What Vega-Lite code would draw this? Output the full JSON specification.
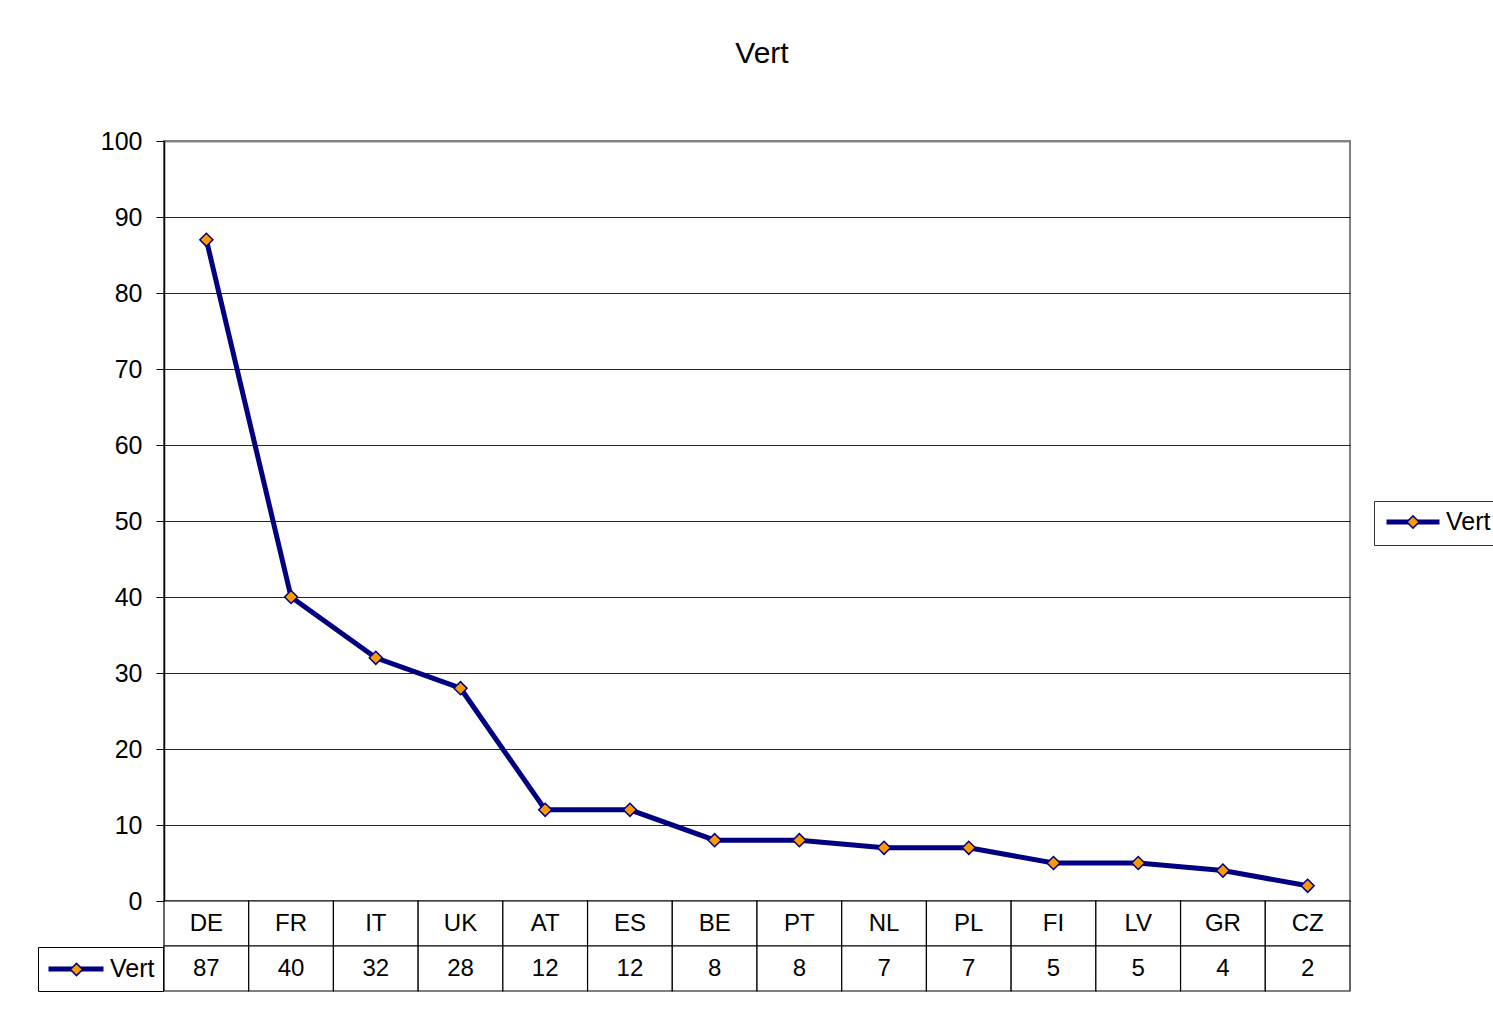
{
  "$schema": "https://vega.github.io/schema/vega-lite/v6.json",
  "autosize": {"type": "pad"},
  "padding": {"left": 37, "top": 38, "right": 0, "bottom": 18},
  "background": "white",
  "config": {
    "font": "Liberation Sans",
    "view": {"stroke": "#808080", "strokeWidth": 2},
    "legend": {"labelFont": "Liberation Sans", "labelColor": "black"},
    "axis": {"labelFont": "Liberation Sans"}
  },
  "datasets": {
    "d": [
      {"country": "DE", "value": 87, "series": "Vert"},
      {"country": "FR", "value": 40, "series": "Vert"},
      {"country": "IT", "value": 32, "series": "Vert"},
      {"country": "UK", "value": 28, "series": "Vert"},
      {"country": "AT", "value": 12, "series": "Vert"},
      {"country": "ES", "value": 12, "series": "Vert"},
      {"country": "BE", "value": 8, "series": "Vert"},
      {"country": "PT", "value": 8, "series": "Vert"},
      {"country": "NL", "value": 7, "series": "Vert"},
      {"country": "PL", "value": 7, "series": "Vert"},
      {"country": "FI", "value": 5, "series": "Vert"},
      {"country": "LV", "value": 5, "series": "Vert"},
      {"country": "GR", "value": 4, "series": "Vert"},
      {"country": "CZ", "value": 2, "series": "Vert"}
    ]
  },
  "spacing": 0,
  "bounds": "flush",
  "resolve": {
    "scale": {"color": "independent", "shape": "independent"},
    "legend": {"color": "independent", "shape": "independent"}
  },
  "vconcat": [
    {
      "width": 1186,
      "height": 760,
      "data": {"name": "d"},
      "title": {"text": "Vert", "fontSize": 30, "fontWeight": "normal", "color": "black", "font": "Liberation Sans", "offset": 60, "dx": 5, "anchor": "middle"},
      "encoding": {
        "x": {"field": "country", "type": "nominal", "sort": null, "scale": {"type": "point", "padding": 0.5}, "axis": null},
        "y": {
          "field": "value", "type": "quantitative",
          "scale": {"domain": [0, 100]},
          "axis": {
            "values": [0, 10, 20, 30, 40, 50, 60, 70, 80, 90, 100],
            "grid": true,
            "gridColor": {"condition": {"test": "datum.value === 100", "value": "#808080"}, "value": "#000000"},
            "gridWidth": {"condition": {"test": "datum.value === 100", "value": 2}, "value": 1},
            "gridOpacity": 0.85,
            "tickSize": 8, "tickColor": "#000000", "tickWidth": 1,
            "domainColor": "#000000", "domainWidth": 1.5,
            "labelFontSize": 25, "labelColor": "#000000", "labelPadding": 14,
            "title": null
          }
        }
      },
      "layer": [
        {
          "mark": {"type": "line", "strokeWidth": 5, "strokeCap": "round"},
          "encoding": {
            "color": {
              "field": "series", "type": "nominal",
              "scale": {"range": ["#000080"]},
              "legend": {
                "orient": "none", "legendX": 1210, "legendY": 360, "title": null,
                "symbolType": "stroke", "symbolSize": 2809, "symbolStrokeWidth": 5,
                "labelFontSize": 25, "labelOffset": 4, "padding": 10,
                "strokeColor": "#333333", "clipHeight": 22
              }
            }
          }
        },
        {
          "mark": {"type": "point", "filled": true, "fill": "#FF9900", "stroke": "#000080", "strokeWidth": 1.5, "size": 170, "opacity": 1},
          "encoding": {
            "shape": {
              "datum": "Vert", "type": "nominal",
              "scale": {"range": ["diamond"]},
              "legend": {
                "orient": "none", "legendX": 1242, "legendY": 374, "title": null,
                "padding": 0, "symbolSize": 150, "labelExpr": "''"
              }
            }
          }
        }
      ]
    },
    {
      "width": 1186,
      "height": 90,
      "view": {"stroke": null},
      "data": {"name": "d"},
      "encoding": {
        "x": {"field": "country", "type": "nominal", "sort": null, "scale": {"type": "band", "paddingInner": 0, "paddingOuter": 0}, "axis": null}
      },
      "layer": [
        {
          "mark": {"type": "line", "strokeWidth": 5, "strokeCap": "round"},
          "encoding": {
            "y": {"datum": "val", "type": "nominal", "scale": {"domain": ["cat", "val"], "paddingInner": 0, "paddingOuter": 0}, "axis": null},
            "color": {
              "field": "series", "type": "nominal",
              "scale": {"range": ["#000080"]},
              "legend": {
                "orient": "none", "legendX": -126, "legendY": 46, "title": null,
                "symbolType": "stroke", "symbolSize": 3025, "symbolStrokeWidth": 5,
                "labelFontSize": 25, "labelOffset": 4, "padding": 8,
                "strokeColor": "black", "clipHeight": 28
              }
            }
          }
        },
        {
          "mark": {"type": "point", "filled": true, "fill": "#FF9900", "stroke": "#000080", "strokeWidth": 1.5, "size": 150, "opacity": 1},
          "encoding": {
            "y": {"datum": "val", "type": "nominal"},
            "shape": {
              "datum": "Vert", "type": "nominal",
              "scale": {"range": ["diamond"]},
              "legend": {
                "orient": "none", "legendX": -94.5, "legendY": 61.5, "title": null,
                "padding": 0, "symbolSize": 150, "labelExpr": "''"
              }
            }
          }
        },
        {
          "mark": {"type": "rect", "fill": "white", "stroke": "black", "strokeWidth": 1.2},
          "encoding": {
            "y": {"datum": "cat", "type": "nominal"}
          }
        },
        {
          "mark": {"type": "rect", "fill": "white", "stroke": "black", "strokeWidth": 1.2},
          "encoding": {
            "y": {"datum": "val", "type": "nominal"}
          }
        },
        {
          "mark": {"type": "text", "fontSize": 24, "color": "black", "font": "Liberation Sans"},
          "encoding": {
            "y": {"datum": "cat", "type": "nominal"},
            "text": {"field": "country", "type": "nominal"}
          }
        },
        {
          "mark": {"type": "text", "fontSize": 24, "color": "black", "font": "Liberation Sans"},
          "encoding": {
            "y": {"datum": "val", "type": "nominal"},
            "text": {"field": "value", "type": "quantitative"}
          }
        }
      ]
    }
  ]
}
